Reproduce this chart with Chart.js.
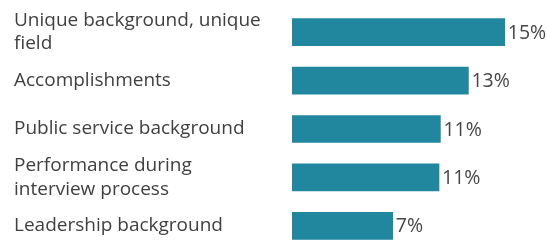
<!DOCTYPE html>
<html>
<head>
<meta charset="utf-8">
<script src="https://cdn.jsdelivr.net/npm/chart.js@4"></script>
<style>
  html, body { margin: 0; padding: 0; background: #fff; overflow: hidden; }
  .caixa { position: relative; width: 547px; height: 250px; }
</style>
</head>
<body>
<div class="caixa"><canvas id="grafico"></canvas></div>
<script>
// dados
const categorias = [
  ['Unique background, unique', 'field'],
  'Accomplishments',
  'Public service background',
  ['Performance during', 'interview process'],
  'Leadership background'
];
const valores = [15.2, 12.6, 10.6, 10.5, 7.2];
const rotulos = ['15%', '13%', '11%', '11%', '7%'];

const corBarra = '#21879f';
const corTexto = '#404040';

// escreve o valor no fim de cada barra
const rotuloNaBarra = {
  id: 'rotuloNaBarra',
  afterDatasetsDraw(chart) {
    const ctx = chart.ctx;
    const meta = chart.getDatasetMeta(0);
    ctx.save();
    ctx.font = '19.5px "Open Sans"';
    ctx.fillStyle = '#474747';
    ctx.textAlign = 'left';
    ctx.textBaseline = 'middle';
    meta.data.forEach((barra, i) => {
      ctx.fillText(rotulos[i], barra.x + 3, barra.y + 1);
    });
    ctx.restore();
  }
};

const grafico = new Chart(document.getElementById('grafico'), {
  type: 'bar',
  data: {
    labels: categorias,
    datasets: [{
      data: valores,
      backgroundColor: corBarra,
      barThickness: 27,
      borderWidth: 0
    }]
  },
  options: {
    indexAxis: 'y',
    responsive: true,
    maintainAspectRatio: false,
    animation: false,
    layout: { padding: { left: 14, right: 3, top: 8, bottom: 0 } },
    plugins: {
      legend: { display: false },
      tooltip: { enabled: false }
    },
    scales: {
      x: {
        display: false,
        min: 0,
        max: 18
      },
      y: {
        grid: { display: false },
        border: { display: false },
        ticks: {
          autoSkip: false,
          crossAlign: 'far',
          color: corTexto,
          padding: 0,
          font: { family: 'Open Sans', size: 19, lineHeight: 1.25 }
        },
        afterFit(scale) {
          scale.width = 278;
          scale.paddingTop = 0;
          scale.paddingBottom = 0;
        }
      }
    }
  },
  plugins: [rotuloNaBarra]
});
</script>
</body>
</html>
